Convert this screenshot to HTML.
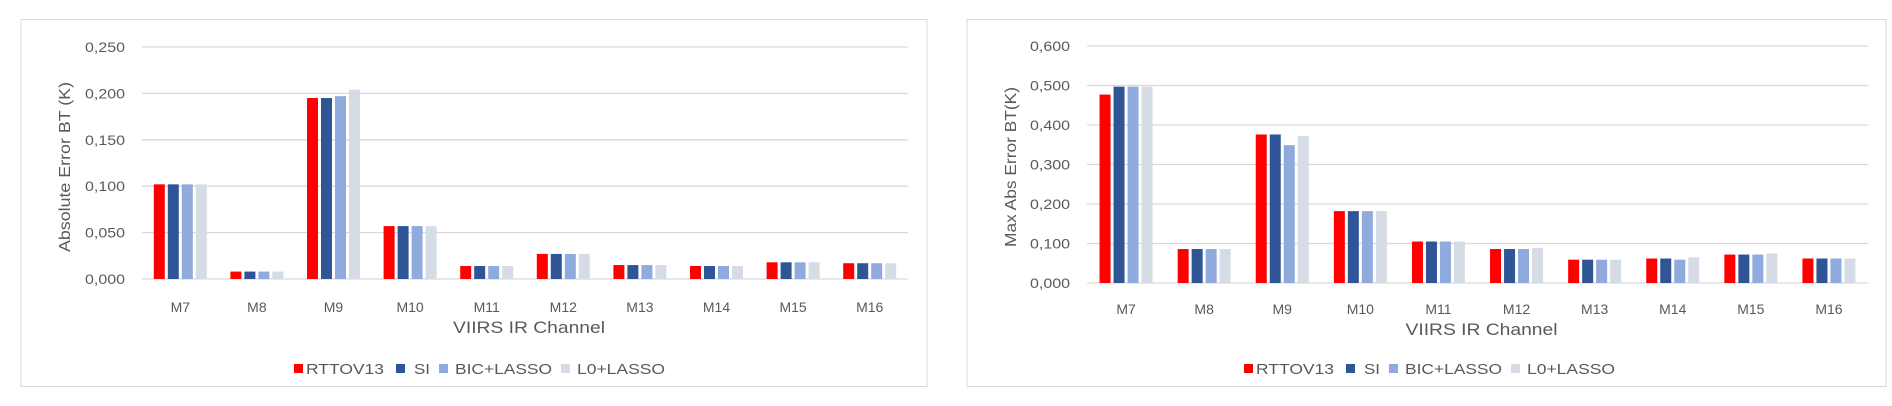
<!DOCTYPE html>
<html><head><meta charset="utf-8"><style>
body{margin:0;background:#fff;width:1892px;height:406px;overflow:hidden;font-family:"Liberation Sans",sans-serif}
svg{position:absolute;left:0;top:0}
</style></head><body>
<svg id="s" width="1892" height="406" xmlns="http://www.w3.org/2000/svg"></svg>
<script>
const categories=["M7","M8","M9","M10","M11","M12","M13","M14","M15","M16"];
const seriesNames=["RTTOV13","SI","BIC+LASSO","L0+LASSO"];
const colors=["#ff0000","#2f5597","#8faadc","#d6dce5"];
const leftRTTOV=[0.102,0.008,0.195,0.057,0.014,0.027,0.015,0.014,0.018,0.017];
const leftSI=[0.102,0.008,0.195,0.057,0.014,0.027,0.015,0.014,0.018,0.017];
const leftBIC=[0.102,0.008,0.197,0.057,0.014,0.027,0.015,0.014,0.018,0.017];
const leftL0=[0.102,0.008,0.204,0.057,0.014,0.027,0.015,0.014,0.018,0.017];
const leftTicks=["0,000","0,050","0,100","0,150","0,200","0,250"];
const rightRTTOV=[0.477,0.086,0.376,0.182,0.105,0.086,0.059,0.062,0.072,0.062];
const rightSI=[0.497,0.086,0.376,0.182,0.105,0.086,0.059,0.062,0.072,0.062];
const rightBIC=[0.497,0.086,0.349,0.182,0.105,0.086,0.059,0.059,0.072,0.062];
const rightL0=[0.497,0.086,0.372,0.182,0.105,0.089,0.059,0.065,0.075,0.062];
const rightTicks=["0,000","0,100","0,200","0,300","0,400","0,500","0,600"];
const NS="http://www.w3.org/2000/svg";
const svg=document.getElementById('s');
function mk(t,a,p){const e=document.createElementNS(NS,t);for(const k in a)e.setAttribute(k,a[k]);(p||svg).appendChild(e);return e;}
function chart(cfg){
  const g=mk('g',{});
  
  
  const fr=mk('rect',{x:cfg.fx,y:19.5,width:cfg.fw,height:367,fill:'#fff',stroke:'#d9d9d9','stroke-width':1},g);
  
  
  const y=v=>cfg.y0-(v/cfg.max)*(cfg.y0-cfg.y1);
  cfg.ticks.forEach((t,i)=>{
    const v=i*cfg.max/(cfg.ticks.length-1);
    const ln=mk('line',{x1:cfg.px0,x2:cfg.px1,y1:y(v),y2:y(v),stroke:'#d9d9d9','stroke-width':1.3},g);
    
    
    const tx=mk('text',{x:cfg.px0-17,y:y(v)+5,'text-anchor':'end','font-size':14,fill:'#595959',textLength:40,lengthAdjust:'spacingAndGlyphs'},g);
    tx.textContent=t;
    
    
  });
  const cw=(cfg.px1-cfg.px0)/categories.length, bw=11, step=14;
  categories.forEach((c,i)=>{
    const cx=cfg.px0+cw*(i+0.5);
    cfg.series.forEach((arr,s)=>{
      const x=cx-2*step+s*step+1.5;
      const r=mk('rect',{x:x,y:y(arr[i]),width:bw,height:cfg.y0-y(arr[i]),fill:colors[s]},g);
      
      
    });
    const tx=mk('text',{x:cx,y:cfg.catY,'text-anchor':'middle','font-size':14,fill:'#595959'},g);
    tx.textContent=c;
    
    
  });
  const xt=mk('text',{x:(cfg.px0+cfg.px1)/2+4,y:cfg.catY+21,'text-anchor':'middle','font-size':17,fill:'#595959',textLength:152,lengthAdjust:'spacingAndGlyphs'},g);
  xt.textContent='VIIRS IR Channel';
  
  
  const yt=mk('text',{x:0,y:0,'text-anchor':'middle','font-size':16,fill:'#595959',textLength:cfg.ytl,lengthAdjust:'spacingAndGlyphs',transform:`translate(${cfg.ytx},167) rotate(-90)`},g);
  yt.textContent=cfg.ytitle;
  
  
  const sqX=[0,102,145,267];
  const txX=[12,120,161,283];
  const txW=[78,16,97,88];
  seriesNames.forEach((n,s)=>{
    const sq=mk('rect',{x:cfg.legX+sqX[s],y:364,width:9,height:9,fill:colors[s]},g);
    
    
    const t=mk('text',{x:cfg.legX+txX[s],y:374,'font-size':15,fill:'#595959',textLength:txW[s],lengthAdjust:'spacingAndGlyphs'},g);
    t.textContent=n;
    
    
  });
}
chart({name:'left-chart',fx:21,fw:906,px0:142,px1:908,y0:279,y1:47,max:0.25,ticks:leftTicks,series:[leftRTTOV,leftSI,leftBIC,leftL0],catY:312,ytx:70,ytl:170,ytitle:'Absolute Error BT (K)',legX:294});
chart({name:'right-chart',fx:967,fw:919,px0:1087,px1:1868,y0:283,y1:46,max:0.6,ticks:rightTicks,series:[rightRTTOV,rightSI,rightBIC,rightL0],catY:314,ytx:1016,ytl:160,ytitle:'Max Abs Error BT(K)',legX:1244});
</script>
</body></html>
